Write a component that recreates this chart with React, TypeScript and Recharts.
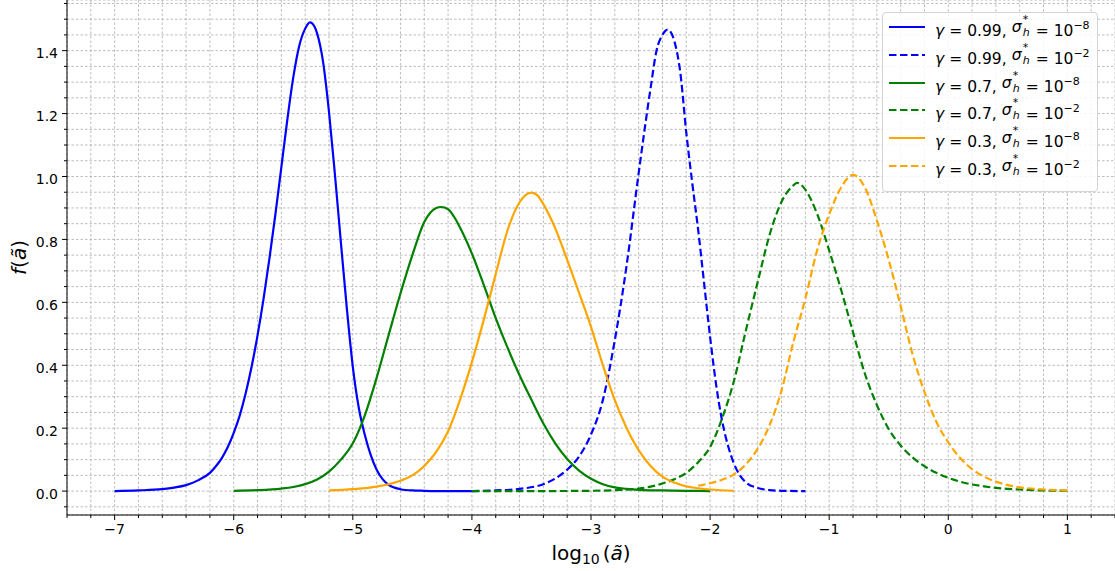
import React from "react";
import { LineChart, Line, XAxis, YAxis, CartesianGrid, Label } from "recharts";

// gamma = 0.99, sigma = 1e-8
const blueSolidX = [-7.0, -6.8, -6.6, -6.5, -6.4, -6.3, -6.2, -6.15, -6.1, -6.05, -6.0, -5.95, -5.9, -5.85, -5.8, -5.75, -5.7, -5.65, -5.6, -5.55, -5.5, -5.45, -5.4, -5.36, -5.32, -5.3, -5.25, -5.2, -5.15, -5.1, -5.05, -5.0, -4.95, -4.9, -4.85, -4.8, -4.75, -4.7, -4.65, -4.6, -4.5, -4.4, -4.2, -4.0];
const blueSolidY = [0.0, 0.002, 0.006, 0.011, 0.019, 0.034, 0.058, 0.079, 0.105, 0.14, 0.185, 0.24, 0.31, 0.395, 0.495, 0.61, 0.74, 0.88, 1.03, 1.18, 1.315, 1.415, 1.47, 1.49, 1.475, 1.455, 1.365, 1.205, 1.005, 0.79, 0.58, 0.395, 0.265, 0.18, 0.115, 0.068, 0.038, 0.02, 0.011, 0.006, 0.002, 0.001, 0.0, 0.0];

// gamma = 0.99, sigma = 1e-2
const blueDashedX = [-4.0, -3.8, -3.6, -3.4, -3.3, -3.2, -3.1, -3.0, -2.9, -2.8, -2.7, -2.6, -2.5, -2.45, -2.4, -2.356, -2.3, -2.25, -2.2, -2.15, -2.1, -2.05, -2.0, -1.95, -1.9, -1.85, -1.8, -1.75, -1.7, -1.6, -1.5, -1.4, -1.2];
const blueDashedY = [0.0, 0.002, 0.007, 0.022, 0.04, 0.068, 0.11, 0.18, 0.29, 0.48, 0.72, 1.01, 1.28, 1.4, 1.45, 1.467, 1.43, 1.33, 1.14, 0.98, 0.83, 0.66, 0.49, 0.34, 0.225, 0.145, 0.088, 0.05, 0.028, 0.01, 0.003, 0.001, 0.0];

// gamma = 0.7, sigma = 1e-8
const greenSolidX = [-6.0, -5.8, -5.6, -5.5, -5.4, -5.3, -5.2, -5.1, -5.0, -4.9, -4.8, -4.7, -4.6, -4.5, -4.4, -4.35, -4.3, -4.26, -4.2, -4.15, -4.1, -4.0, -3.9, -3.8, -3.7, -3.6, -3.5, -3.4, -3.3, -3.2, -3.1, -3.0, -2.9, -2.8, -2.7, -2.6, -2.4, -2.2, -2.0];
const greenSolidY = [0.001, 0.003, 0.008, 0.013, 0.022, 0.037, 0.062, 0.1, 0.152, 0.24, 0.36, 0.495, 0.628, 0.75, 0.855, 0.885, 0.9, 0.903, 0.896, 0.872, 0.838, 0.755, 0.655, 0.55, 0.455, 0.368, 0.29, 0.215, 0.152, 0.102, 0.065, 0.039, 0.022, 0.012, 0.007, 0.004, 0.002, 0.001, 0.0];

// gamma = 0.7, sigma = 1e-2
const greenDashedX = [-4.0, -3.5, -3.0, -2.8, -2.6, -2.5, -2.4, -2.3, -2.2, -2.1, -2.0, -1.9, -1.8, -1.7, -1.6, -1.5, -1.4, -1.3, -1.27, -1.2, -1.1, -1.0, -0.9, -0.8, -0.7, -0.6, -0.5, -0.4, -0.3, -0.2, -0.1, 0.0, 0.1, 0.2, 0.3, 0.4, 0.5, 0.6, 0.8, 1.0];
const greenDashedY = [0.0, 0.0, 0.001, 0.003, 0.008, 0.014, 0.024, 0.038, 0.058, 0.092, 0.14, 0.23, 0.35, 0.51, 0.665, 0.815, 0.92, 0.972, 0.98, 0.958, 0.88, 0.765, 0.64, 0.505, 0.373, 0.274, 0.197, 0.145, 0.107, 0.079, 0.058, 0.042, 0.03, 0.021, 0.015, 0.01, 0.007, 0.005, 0.002, 0.001];

// gamma = 0.3, sigma = 1e-8
const orangeSolidX = [-5.2, -5.0, -4.8, -4.6, -4.5, -4.4, -4.3, -4.2, -4.1, -4.0, -3.9, -3.8, -3.7, -3.6, -3.55, -3.5, -3.45, -3.4, -3.3, -3.2, -3.1, -3.0, -2.9, -2.8, -2.7, -2.6, -2.5, -2.4, -2.3, -2.2, -2.1, -2.0, -1.8];
const orangeSolidY = [0.002, 0.006, 0.014, 0.033, 0.05, 0.08, 0.125, 0.19, 0.29, 0.41, 0.545, 0.69, 0.83, 0.918, 0.941, 0.949, 0.94, 0.912, 0.835, 0.735, 0.63, 0.522, 0.4, 0.289, 0.2, 0.13, 0.08, 0.046, 0.027, 0.015, 0.009, 0.005, 0.001];

// gamma = 0.3, sigma = 1e-2
const orangeDashedX = [-2.1, -2.0, -1.9, -1.8, -1.7, -1.6, -1.5, -1.4, -1.3, -1.2, -1.1, -1.0, -0.9, -0.8, -0.7, -0.6, -0.5, -0.4, -0.3, -0.2, -0.1, 0.0, 0.1, 0.2, 0.3, 0.4, 0.5, 0.6, 0.8, 1.0];
const orangeDashedY = [0.017, 0.025, 0.036, 0.053, 0.085, 0.135, 0.21, 0.32, 0.475, 0.612, 0.767, 0.88, 0.965, 1.005, 0.965, 0.861, 0.735, 0.588, 0.435, 0.315, 0.22, 0.155, 0.105, 0.07, 0.046, 0.03, 0.019, 0.012, 0.005, 0.002];

const gammaLabels = ["0.99", "0.99", "0.7", "0.7", "0.3", "0.3"];
const sigmaExponents = ["\u22128", "\u22122", "\u22128", "\u22122", "\u22128", "\u22122"];

const xMajorTicks = [-7, -6, -5, -4, -3, -2, -1, 0, 1];
const yMajorTicks = [0.0, 0.2, 0.4, 0.6, 0.8, 1.0, 1.2, 1.4];

const W = 1115;
const H = 571;
const Y_AXIS_W = 67;
const X_AXIS_H = 56;
const PLOT_BOTTOM = H - X_AXIS_H;
const FONT = "'DejaVu Sans', sans-serif";
const DASH = "7.5 3.5";

const range = (start: number, stop: number, step: number) => {
  const out: number[] = [];
  const n = Math.round((stop - start) / step);
  for (let i = 0; i <= n; i++) out.push(Math.round((start + i * step) * 1000) / 1000);
  return out;
};

// minor ticks every 0.2 on x and 0.05 on y, majors included
const xTicks = range(-7.4, 1.4, 0.2);
const yTicks = range(-0.05, 1.55, 0.05);

const toPoints = (xs: number[], ys: number[]) => xs.map((x, i) => ({ x, y: ys[i] }));

const series = [
  { name: "blue-solid", data: toPoints(blueSolidX, blueSolidY), color: "#0000ff", dashed: false },
  { name: "blue-dashed", data: toPoints(blueDashedX, blueDashedY), color: "#0000ff", dashed: true },
  { name: "green-solid", data: toPoints(greenSolidX, greenSolidY), color: "#008000", dashed: false },
  { name: "green-dashed", data: toPoints(greenDashedX, greenDashedY), color: "#008000", dashed: true },
  { name: "orange-solid", data: toPoints(orangeSolidX, orangeSolidY), color: "#ffa500", dashed: false },
  { name: "orange-dashed", data: toPoints(orangeDashedX, orangeDashedY), color: "#ffa500", dashed: true },
];

const isMajorX = (v: number) => xMajorTicks.some((m) => Math.abs(m - v) < 1e-6);
const isMajorY = (v: number) => yMajorTicks.some((m) => Math.abs(m - v) < 1e-6);

const fmtX = (v: number) => (v < 0 ? "\u2212" + Math.abs(v) : String(v));

const XTick = (props: any) => {
  const { x, payload } = props;
  const major = isMajorX(payload.value);
  return (
    <g>
      <line x1={x} x2={x} y1={PLOT_BOTTOM} y2={PLOT_BOTTOM + (major ? 5 : 3)} stroke="#000" strokeWidth={1} />
      {major && (
        <text x={x} y={PLOT_BOTTOM + 19} textAnchor="middle" fontFamily={FONT} fontSize={14} fill="#000">
          {fmtX(payload.value)}
        </text>
      )}
    </g>
  );
};

const YTick = (props: any) => {
  const { y, payload } = props;
  const major = isMajorY(payload.value);
  return (
    <g>
      <line x1={Y_AXIS_W - (major ? 5 : 3)} x2={Y_AXIS_W} y1={y} y2={y} stroke="#000" strokeWidth={1} />
      {major && (
        <text x={Y_AXIS_W - 9} y={y + 7.5} textAnchor="end" fontFamily={FONT} fontSize={14} fill="#000">
          {payload.value.toFixed(1)}
        </text>
      )}
    </g>
  );
};

const XTitle = (props: any) => {
  const vb = props.viewBox || { x: Y_AXIS_W, y: PLOT_BOTTOM, width: W - Y_AXIS_W };
  return (
    <text x={vb.x + vb.width / 2} y={PLOT_BOTTOM + 45} textAnchor="middle" fontFamily={FONT} fontSize={20} fill="#000">
      log
      <tspan fontSize={14} dy={4}>10</tspan>
      <tspan dy={-4} dx={3}>(</tspan>
      <tspan fontStyle="italic">ã</tspan>
      <tspan>)</tspan>
    </text>
  );
};

const YTitle = () => (
  <text
    x={0}
    y={0}
    transform={`translate(26, ${PLOT_BOTTOM / 2}) rotate(-90)`}
    textAnchor="middle"
    fontFamily={FONT}
    fontSize={20}
    fill="#000"
  >
    <tspan fontStyle="italic">f</tspan>
    <tspan>(</tspan>
    <tspan fontStyle="italic">ã</tspan>
    <tspan>)</tspan>
  </text>
);

// sigma with a stacked superscript star and subscript h
const SigmaH = () => (
  <span style={{ display: "inline-block", position: "relative", width: 22, height: 20, verticalAlign: "top" }}>
    <i style={{ position: "absolute", left: 0, top: 0 }}>σ</i>
    <span style={{ position: "absolute", left: 11, top: -3, fontSize: 11, lineHeight: "11px" }}>*</span>
    <i style={{ position: "absolute", left: 11, top: 10, fontSize: 11, lineHeight: "11px" }}>h</i>
  </span>
);

const LegendBox = () => (
  <div
    style={{
      position: "absolute",
      left: 882,
      top: 12,
      width: 216,
      height: 180,
      boxSizing: "border-box",
      border: "1px solid #d4d4d4",
      borderRadius: 4,
      background: "rgba(255,255,255,0.85)",
      fontFamily: FONT,
      fontSize: 15.5,
      color: "#000",
    }}
  >
    {series.map((s, i) => (
      <div key={s.name} style={{ position: "absolute", left: 0, top: 14 + i * 27.8 - 11, height: 22, width: 214 }}>
        <svg width={40} height={22} style={{ position: "absolute", left: 5, top: 0 }}>
          <line x1={1} x2={37} y1={11} y2={11} stroke={s.color} strokeWidth={2.2} strokeDasharray={s.dashed ? DASH : undefined} />
        </svg>
        <div style={{ position: "absolute", left: 52, top: 1, whiteSpace: "nowrap", lineHeight: "20px" }}>
          <i>γ</i>
          <span style={{ margin: "0 5px" }}>=</span>
          {gammaLabels[i]},
          <span style={{ marginLeft: 5 }} />
          <SigmaH />
          <span style={{ margin: "0 5px 0 2px" }}>=</span>
          10
          <sup style={{ fontSize: 11, position: "relative", top: -1 }}>{sigmaExponents[i]}</sup>
        </div>
      </div>
    ))}
  </div>
);

export default function App() {
  return (
    <div style={{ position: "absolute", left: 0, top: 0, width: W, height: H, background: "#fff" }}>
      <LineChart width={W} height={H} margin={{ top: 0, right: 0, bottom: 0, left: 0 }}>
        <CartesianGrid stroke="#ababab" strokeDasharray="2.5 2" strokeWidth={0.8} />
        <XAxis
          type="number"
          dataKey="x"
          domain={[-7.4, 1.4]}
          ticks={xTicks}
          interval={0}
          allowDataOverflow
          height={X_AXIS_H}
          tickLine={false}
          axisLine={{ stroke: "#000", strokeWidth: 1 }}
          tick={<XTick />}
        >
          <Label content={<XTitle />} />
        </XAxis>
        <YAxis
          type="number"
          domain={[-0.076, 1.561]}
          ticks={yTicks}
          interval={0}
          allowDataOverflow
          width={Y_AXIS_W}
          tickLine={false}
          axisLine={{ stroke: "#000", strokeWidth: 1 }}
          tick={<YTick />}
        >
          <Label content={<YTitle />} />
        </YAxis>
        {series.map((s) => (
          <Line
            key={s.name}
            data={s.data}
            dataKey="y"
            type="monotone"
            stroke={s.color}
            strokeWidth={2.2}
            strokeDasharray={s.dashed ? DASH : undefined}
            dot={false}
            activeDot={false}
            isAnimationActive={false}
          />
        ))}
      </LineChart>
      <LegendBox />
    </div>
  );
}
